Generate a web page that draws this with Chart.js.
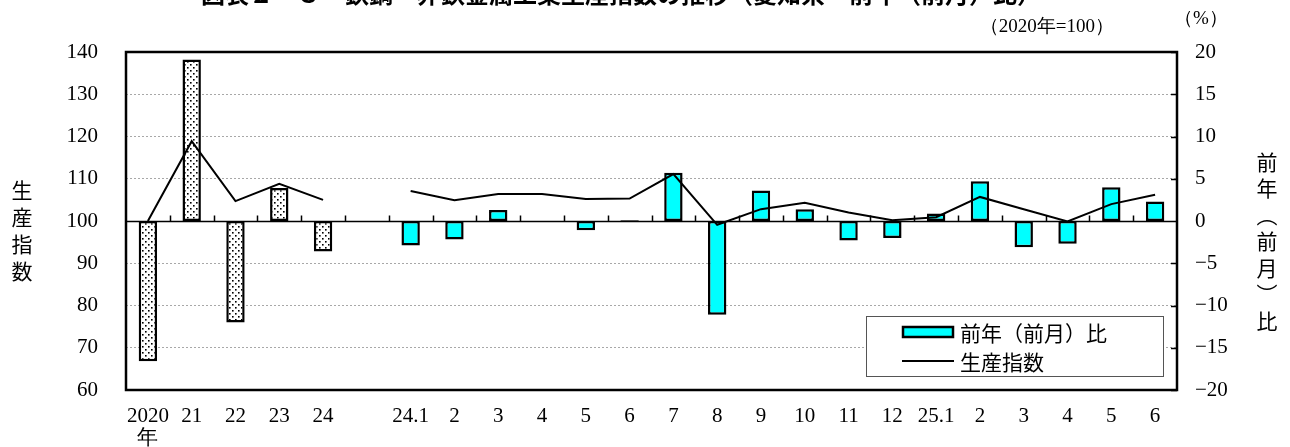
<!DOCTYPE html>
<html>
<head>
<meta charset="utf-8">
<script src="https://cdn.jsdelivr.net/npm/chart.js@4"></script>
<style>
  body { margin: 0; background: #fff; }
</style>
</head>
<body>
<canvas id="chart" width="1290" height="447"></canvas>
<script>
// categories: 5 years, a blank gap, then months from 2024.1 to 2025.6
const categories = [['2020', '年'], '21', '22', '23', '24', '',
    '24.1', '2', '3', '4', '5', '6', '7', '8', '9', '10', '11', '12',
    '25.1', '2', '3', '4', '5', '6'];

// year-on-year (month-on-month) change, %
const yearlyChange = [-16.6, 19.1, -12.0, 3.9, -3.6];
const monthlyChange = [-2.9, -2.2, 1.3, 0.0, -1.1, 0.1, 5.7, -11.1, 3.6, 1.4, -2.3, -2.0,
    0.9, 4.7, -3.1, -2.7, 4.0, 2.3];

// production index (2020 = 100)
const yearlyIndex = [100.0, 118.9, 104.7, 108.8, 105.0];
const monthlyIndex = [107.1, 104.9, 106.4, 106.4, 105.2, 105.3, 111.1, 99.1, 102.8, 104.3, 102.0, 100.2,
    100.9, 105.7, 102.8, 99.9, 104.0, 106.2];

const changeData = [...yearlyChange, null, ...monthlyChange];
const indexData = [...yearlyIndex, null, ...monthlyIndex];

// dotted fill for the yearly bars
function makeDots() {
    const c = document.createElement('canvas');
    c.width = 6; c.height = 6;
    const g = c.getContext('2d');
    g.fillStyle = '#fff';
    g.fillRect(0, 0, 6, 6);
    g.fillStyle = '#000';
    g.fillRect(1, 1, 1.6, 1.6);
    g.fillRect(4, 4, 1.6, 1.6);
    return g.createPattern(c, 'repeat');
}
const dots = makeDots();
const CYAN = '#00ffff';

const serif = '"Liberation Serif", "Times New Roman", serif';
const jp = '"Noto Sans CJK JP", sans-serif';

const decor = {
    id: 'decor',
    beforeDraw(chart) {
        const ctx = chart.ctx;
        ctx.save();
        ctx.fillStyle = '#fff';
        ctx.fillRect(0, 0, chart.width, chart.height);
        ctx.restore();
    },
    beforeDatasetsDraw(chart) {
        const ctx = chart.ctx, a = chart.chartArea;
        const x = chart.scales.x, y = chart.scales.y, y1 = chart.scales.y1;
        const y0 = Math.round(y.getPixelForValue(100)) + 0.5;
        ctx.save();
        ctx.strokeStyle = '#000';
        ctx.lineWidth = 1.5;
        ctx.beginPath();
        ctx.moveTo(a.left, y0);
        ctx.lineTo(a.right, y0);
        // category boundary ticks on the zero line
        const step = x.getPixelForTick(1) - x.getPixelForTick(0);
        for (let i = 1; i < categories.length; i++) {
            const bx = Math.round(x.getPixelForTick(i) - step / 2) + 0.5;
            ctx.moveTo(bx, y0);
            ctx.lineTo(bx, y0 - 6);
        }
        // right axis ticks pointing inward
        y1.ticks.forEach(t => {
            const ty = Math.round(y1.getPixelForValue(t.value)) + 0.5;
            ctx.moveTo(a.right - 6, ty);
            ctx.lineTo(a.right, ty);
        });
        ctx.stroke();
        ctx.restore();
    },
    afterDraw(chart) {
        const ctx = chart.ctx, a = chart.chartArea;
        ctx.save();
        // plot frame
        ctx.strokeStyle = '#000';
        ctx.lineWidth = 2.5;
        ctx.strokeRect(a.left, a.top, a.right - a.left, a.bottom - a.top);

        // title (cut off at the top edge, as in the source)
        ctx.fillStyle = '#000';
        ctx.font = 'bold 24px ' + jp;
        ctx.textAlign = 'center';
        ctx.textBaseline = 'alphabetic';
        ctx.fillText('図表２－３　鉄鋼・非鉄金属工業生産指数の推移（愛知県・前年（前月）比）', 621, 3);

        // units
        ctx.font = '19px ' + serif;
        ctx.textAlign = 'right';
        ctx.textBaseline = 'middle';
        ctx.fillText('（2020年=100）', 1114, 27);
        ctx.textAlign = 'center';
        ctx.fillText('（%）', 1201, 19);

        // vertical axis titles
        ctx.font = '21px ' + jp;
        ctx.textAlign = 'center';
        ctx.textBaseline = 'middle';
        ['生', '産', '指', '数'].forEach((ch, i) => ctx.fillText(ch, 22, 190 + i * 27));
        ['前', '年', '︵', '前', '月', '︶', '比'].forEach((ch, i) => ctx.fillText(ch, 1267, 162 + i * 26.5));

        // legend
        ctx.fillStyle = '#fff';
        ctx.fillRect(866, 316, 297, 60);
        ctx.strokeStyle = '#555';
        ctx.lineWidth = 1;
        ctx.strokeRect(866.5, 316.5, 297, 60);
        ctx.fillStyle = CYAN;
        ctx.fillRect(903, 327, 50, 10);
        ctx.strokeStyle = '#000';
        ctx.lineWidth = 2.5;
        ctx.strokeRect(903, 327, 50, 10);
        ctx.lineWidth = 2;
        ctx.beginPath();
        ctx.moveTo(902, 361);
        ctx.lineTo(954, 361);
        ctx.stroke();
        ctx.fillStyle = '#000';
        ctx.font = '21px ' + jp;
        ctx.textAlign = 'left';
        ctx.textBaseline = 'middle';
        ctx.fillText(chart.data.datasets[1].label, 960, 333);
        ctx.fillText(chart.data.datasets[0].label, 960, 362);
        ctx.restore();
    }
};

new Chart(document.getElementById('chart'), {
    type: 'bar',
    data: {
        labels: categories,
        datasets: [{
            type: 'line',
            label: '生産指数',
            data: indexData,
            yAxisID: 'y',
            borderColor: '#000',
            borderWidth: 2,
            pointRadius: 0,
            tension: 0,
            spanGaps: false,
            order: 0
        }, {
            type: 'bar',
            label: '前年（前月）比',
            data: changeData,
            yAxisID: 'y1',
            backgroundColor: changeData.map((v, i) => i < yearlyChange.length ? dots : CYAN),
            borderColor: '#000',
            borderWidth: ctx => ctx.raw === 0 ? 0 : 2.5,
            borderSkipped: false,
            categoryPercentage: 1,
            barPercentage: 0.42,
            order: 1
        }]
    },
    options: {
        responsive: false,
        animation: false,
        devicePixelRatio: 1,
        layout: { padding: { top: 52, left: 0, right: 0, bottom: 0 } },
        plugins: {
            legend: { display: false },
            tooltip: { enabled: false }
        },
        scales: {
            x: {
                grid: { display: false },
                border: { display: false },
                ticks: {
                    color: '#000',
                    font: { family: serif, size: 21, lineHeight: 1.05 },
                    maxRotation: 0,
                    autoSkip: false,
                    padding: 7
                },
                afterFit: s => { s.height = 57; }
            },
            y: {
                position: 'left',
                min: 60,
                max: 140,
                ticks: {
                    stepSize: 10,
                    color: '#000',
                    font: { family: serif, size: 21 },
                    padding: 28
                },
                grid: {
                    drawTicks: false,
                    color: ctx => [60, 100, 140].includes(ctx.tick.value) ? 'rgba(0,0,0,0)' : '#a8a8a8',
                    lineWidth: 1
                },
                border: { display: false, dash: [2, 2] },
                afterFit: s => { s.width = 126; }
            },
            y1: {
                position: 'right',
                min: -20,
                max: 20,
                ticks: {
                    stepSize: 5,
                    color: '#000',
                    font: { family: serif, size: 21 },
                    padding: 18,
                    callback: v => v < 0 ? '−' + Math.abs(v) : String(v)
                },
                grid: { display: false, drawTicks: false },
                border: { display: false },
                afterFit: s => { s.width = 113; }
            }
        }
    },
    plugins: [decor]
});
</script>
</body>
</html>
